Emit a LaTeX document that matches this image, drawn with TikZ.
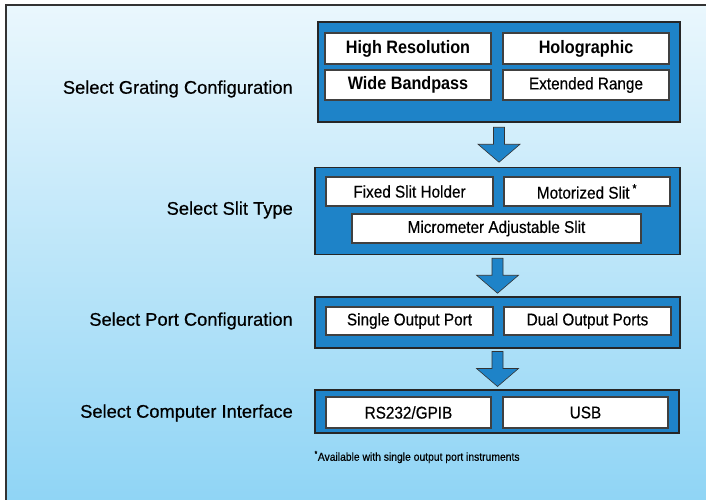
\documentclass[tikz,border=0pt]{standalone}
\usepackage{fontspec}
\setmainfont{Liberation Sans}[FakeStretch=0.9, UprightFeatures={FakeBold=0.4}]
\newfontfamily\labelfont{Liberation Sans}[FakeBold=0.5]
\usetikzlibrary{calc}

\definecolor{stageblue}{RGB}{30,131,200}
\definecolor{bgtop}{RGB}{234,247,253}
\definecolor{bgbottom}{RGB}{142,212,245}

\tikzset{
  stage/.style={draw=black!85, line width=1.3pt, fill=stageblue},
  choice/.style={draw=black!75, line width=1.2pt, fill=white, font=\fontsize{17}{19}\selectfont},
  choicebold/.style={choice, font=\fontsize{18}{20}\selectfont\bfseries},
  steplabel/.style={anchor=east, inner sep=0pt, font=\labelfont\fontsize{18.3}{20}\selectfont},
  stagearrow/.style={draw=black!80, line width=0.6pt, fill=stageblue}
}

\newcommand{\stagearrow}[2]{%
  \draw[stagearrow] let \p1=(#1.south), \p2=(#2.north), \n1={(\y1+\y2)/2} in
    (\x1-5.5pt,\n1+17.5pt) -- (\x1+5.5pt,\n1+17.5pt) -- (\x1+5.5pt,\n1+0.5pt)
    -- (\x1+21pt,\n1+0.5pt) -- (\x1,\n1-17.5pt) -- (\x1-21pt,\n1+0.5pt)
    -- (\x1-5.5pt,\n1+0.5pt) -- cycle;}

\begin{document}
\begin{tikzpicture}[x=1pt, y=-1pt]
  \useasboundingbox (0,0) rectangle (706,500);
  \fill[white] (0,0) rectangle (706,500);
  \shade[top color=bgtop, bottom color=bgbottom] (6,5) rectangle (720,510);
  \draw[black!80, line width=1.6pt] (720,5) -- (6,5) -- (6,510);

  % grating
  \node[stage, minimum width=362pt, minimum height=100pt] (grating) at (499,72) {};
  \node[choicebold, minimum width=166pt, minimum height=31pt] (hires) at (408,48.5) {High Resolution};
  \node[choicebold, minimum width=166pt, minimum height=31pt] (holo) at (586,48.5) {Holographic};
  \node[choicebold, minimum width=166pt, minimum height=30pt] (wide) at (408,85) {Wide Bandpass};
  \node[choice, minimum width=166pt, minimum height=30pt] (ext) at (586,85) {Extended Range};
  \node[steplabel] (lgrating) at (293,89) {Select Grating Configuration};

  % slit
  \node[stage, minimum width=365pt, minimum height=87pt] (slit) at (497.5,211) {};
  \node[choice, minimum width=167pt, minimum height=29pt] (fixed) at (409.5,191.5) {Fixed Slit Holder};
  \node[choice, minimum width=166pt, minimum height=29pt] (motor) at (587,191.5) {Motorized Slit\,\textsuperscript{*}};
  \node[choice, minimum width=289pt, minimum height=29pt] (micro) at (496.5,228.5) {Micrometer Adjustable Slit};
  \node[steplabel] (lslit) at (293,210) {Select Slit Type};

  % ports
  \node[stage, minimum width=365pt, minimum height=51pt] (port) at (497.5,322.5) {};
  \node[choice, minimum width=167pt, minimum height=28pt] (single) at (409.5,321) {Single Output Port};
  \node[choice, minimum width=167pt, minimum height=28pt] (dual) at (587.5,321) {Dual Output Ports};
  \node[steplabel] (lport) at (293,321) {Select Port Configuration};

  % interface
  \node[stage, minimum width=364pt, minimum height=43pt] (iface) at (497,411.5) {};
  \node[choice, minimum width=165pt, minimum height=31pt] (rs) at (408.5,412.5) {RS232/GPIB};
  \node[choice, minimum width=165pt, minimum height=31pt] (usb) at (585.5,412.5) {USB};
  \node[steplabel] (liface) at (293,413) {Select Computer Interface};

  \stagearrow{grating}{slit}
  \stagearrow{slit}{port}
  \stagearrow{port}{iface}

  \node[anchor=west, font=\fontsize{11.5}{13}\selectfont] (note) at (311,457) {\textsuperscript{*}Available with single output port instruments};
\end{tikzpicture}
\end{document}
